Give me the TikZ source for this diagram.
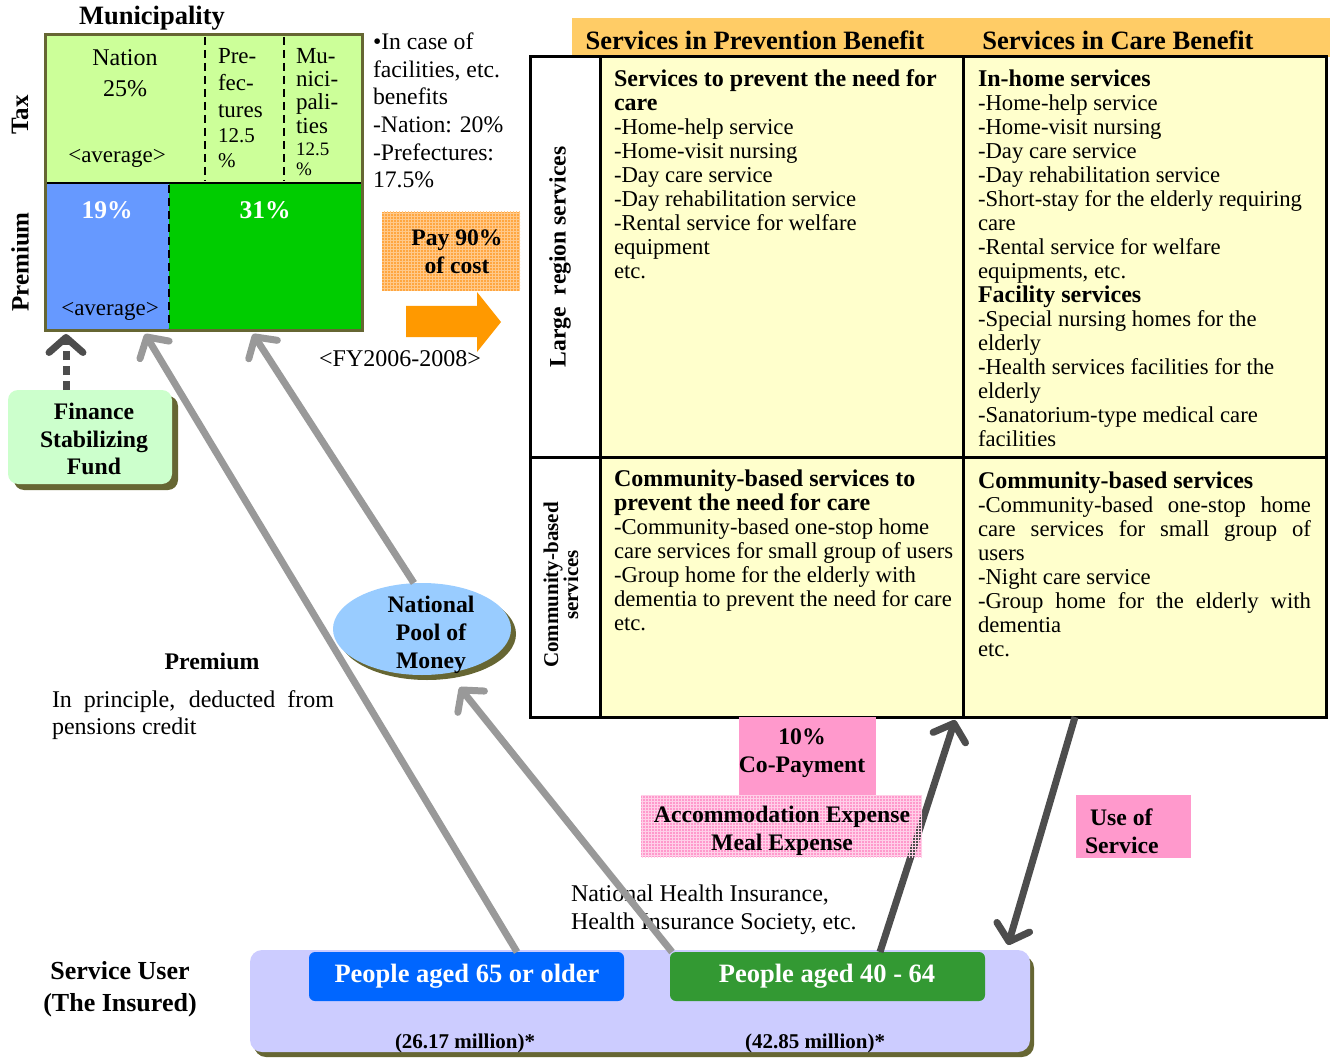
\documentclass[tikz,border=0pt]{standalone}
\usepackage{fontspec}
\setmainfont{Liberation Serif}
\usetikzlibrary{arrows.meta,shapes.geometric,patterns}

\definecolor{ctax}{HTML}{CCFF99}
\definecolor{cpremblue}{HTML}{6699FF}
\definecolor{cpremgreen}{HTML}{00CC00}
\definecolor{colive}{HTML}{666633}
\definecolor{cfund}{HTML}{CCFFCC}
\definecolor{cpay}{HTML}{FFA640}
\definecolor{cpaygrid}{HTML}{FFC98A}
\definecolor{carrow}{HTML}{FF9900}
\definecolor{cband}{HTML}{FFCC66}
\definecolor{ccell}{HTML}{FFFFCC}
\definecolor{cpool}{HTML}{99CCFF}
\definecolor{cpink}{HTML}{FF99CC}
\definecolor{cpinkgrid}{HTML}{FFD0E8}
\definecolor{clav}{HTML}{CCCCFF}
\definecolor{cold}{HTML}{0066FF}
\definecolor{cyoung}{HTML}{339933}
\definecolor{cdark}{HTML}{4D4D4D}
\definecolor{clight}{HTML}{999999}

\newcommand\setsz[2]{\fontsize{#1}{#2}\selectfont}

\tikzset{
  lbl/.style={inner sep=0pt, outer sep=0pt, text=black},
  boxnw/.style={anchor=north west, inner sep=0pt, outer sep=0pt},
  cellbox/.style={boxnw, draw=black, line width=3pt, fill=ccell},
  sidebox/.style={boxnw, draw=black, line width=3pt, fill=white},
  lightarr/.style={draw=clight, line width=7pt, -{Straight Barb[length=15pt,width=34pt,round]}},
  darkarr/.style={draw=cdark, line width=7pt, -{Straight Barb[length=15pt,width=34pt,round]}},
  peoplebox/.style={boxnw, rounded corners=6pt, minimum width=315pt, minimum height=49pt},
  celltext/.style={lbl, anchor=north west, align=left, font=\setsz{22.7}{24}},
  hd/.style={lbl, font=\bfseries\setsz{26.5}{30}},
}

\begin{document}
\begin{tikzpicture}[x=1pt,y=-1pt]
\useasboundingbox (0,0) rectangle (1333,1059);

% ---------------- Municipality financing box ----------------
\node[lbl, anchor=base, font=\bfseries\setsz{26.5}{30}] (muniTitle) at (152,25) {Municipality};
\fill[ctax] (45,35) rectangle (362,183);
\fill[cpremblue] (45,183) rectangle (169,330);
\fill[cpremgreen] (169,183) rectangle (362,330);
\draw[line width=2pt] (45,183) -- (362,183);
\draw[line width=2pt, dash pattern=on 8pt off 5pt]
  (205,37) -- (205,181) (284,37) -- (284,181) (169,185) -- (169,328);
\node[boxnw, draw=colive, line width=3pt, minimum width=317pt, minimum height=295pt] (muni) at (45,35) {};

\node[lbl, anchor=base, font=\setsz{24}{28}] (nation) at (125,66) {Nation};
\node[lbl, anchor=base, font=\setsz{24}{28}] (nationPct) at (125,97) {25\%};
\node[lbl, anchor=base, font=\setsz{23}{28}] (avgTax) at (117,163) {<average>};
\node[lbl, anchor=north west, align=left, font=\setsz{23}{27}] (pref) at (218,48) {Pre-\\fec-\\tures};
\node[lbl, anchor=north west, align=left, font=\setsz{21}{25}] (prefPct) at (218,129) {12.5\\\%};
\node[lbl, anchor=north west, align=left, font=\setsz{23}{23.4}] (munis) at (296,48) {Mu-\\nici-\\pali-\\ties};
\node[lbl, anchor=north west, align=left, font=\setsz{19}{20}] (munisPct) at (296,143) {12.5\\\%};

\node[lbl, anchor=base, text=white, font=\bfseries\setsz{25.5}{28}] (p19) at (107,219) {19\%};
\node[lbl, anchor=base, text=white, font=\bfseries\setsz{25.5}{28}] (p31) at (265,219) {31\%};
\node[lbl, anchor=base, font=\setsz{23}{28}] (avgPrem) at (110,316) {<average>};

\node[lbl, rotate=90, font=\bfseries\setsz{25}{28}] (taxLbl) at (20,115) {Tax};
\node[lbl, rotate=90, font=\bfseries\setsz{25}{28}] (premLbl) at (20,262) {Premium};

% facilities note
\node[lbl, anchor=north west, align=left, font=\setsz{23.7}{27.6}] (note) at (373,33)
  {•In case of\\facilities, etc.\\benefits\\-Nation: 20\%\\-Prefectures:\\17.5\%};

% ---------------- Pay 90% box and block arrow ----------------
\node[boxnw, fill=cpay, minimum width=138pt, minimum height=79pt,
      postaction={pattern=grid, pattern color=cpaygrid}] (pay) at (382,212) {};
\node[lbl, align=center, font=\bfseries\setsz{23.6}{28}] (payLbl) at (457,252) {Pay 90\%\\of cost};
\fill[carrow] (406,306) -- (477,306) -- (477,292) -- (501,322) -- (477,352) -- (477,337) -- (406,337) -- cycle;
\node[lbl, anchor=base, font=\setsz{24}{28}] (fy) at (400,366) {<FY2006-2008>};

% ---------------- Services table ----------------
\node[boxnw, fill=cband, minimum width=758pt, minimum height=39pt] (band) at (572,18) {};
\node[hd, anchor=base] (prevHd) at (755,50) {Services in Prevention Benefit};
\node[hd, anchor=base] (careHd) at (1118,50) {Services in Care Benefit};

\node[sidebox, minimum width=70pt, minimum height=400pt] (sideTop) at (530,57) {};
\node[sidebox, minimum width=70pt, minimum height=260pt] (sideBot) at (530,457) {};
\node[cellbox, minimum width=363pt, minimum height=400pt] (cellA) at (600,57) {};
\node[cellbox, minimum width=363pt, minimum height=400pt] (cellB) at (963,57) {};
\node[cellbox, minimum width=363pt, minimum height=260pt] (cellC) at (600,457) {};
\node[cellbox, minimum width=363pt, minimum height=260pt] (cellD) at (963,457) {};

\node[lbl, rotate=90, font=\bfseries\setsz{23.6}{28}] (largeLbl) at (560,257) {Large\hspace{12pt}region services};
\node[lbl, rotate=90, align=center, font=\bfseries\setsz{21}{18}] (commLbl) at (561,585) {Community-based\\services};

\node[celltext] (txtA) at (614,69.5)
  {{\bfseries\setsz{24}{24}Services to prevent the need for}\\
   {\bfseries\setsz{24}{24}care}\\
   -Home-help service\\-Home-visit nursing\\-Day care service\\
   -Day rehabilitation service\\-Rental service for welfare\\equipment\\etc.};
\node[celltext] (txtB) at (978,69.5)
  {{\bfseries\setsz{24}{24}In-home services}\\
   -Home-help service\\-Home-visit nursing\\-Day care service\\
   -Day rehabilitation service\\-Short-stay for the elderly requiring\\care\\
   -Rental service for welfare\\equipments, etc.\\
   {\bfseries\setsz{24}{24}Facility services}\\
   -Special nursing homes for the\\elderly\\
   -Health services facilities for the\\elderly\\
   -Sanatorium-type medical care\\facilities};
\node[celltext] (txtC) at (614,469.5)
  {{\bfseries\setsz{24}{24}Community-based services to}\\
   {\bfseries\setsz{24}{24}prevent the need for care}\\
   -Community-based one-stop home\\
   care services for small group of users\\
   -Group home for the elderly with\\
   dementia to prevent the need for care\\etc.};
\node[celltext] (txtD) at (978,471.5)
  {{\bfseries\setsz{24}{24}Community-based services}\\
   \makebox[333pt][s]{-Community-based one-stop home}\\
   \makebox[333pt][s]{care services for small group of}\\
   users\\-Night care service\\
   \makebox[333pt][s]{-Group home for the elderly with}\\
   dementia\\etc.};

% ---------------- Finance Stabilizing Fund ----------------
\fill[colive, rounded corners=10pt] (14,396) rectangle (178,490);
\node[boxnw, fill=cfund, rounded corners=10pt, minimum width=164pt, minimum height=94pt] (fund) at (8,390) {};
\node[lbl, align=center, font=\bfseries\setsz{23.7}{27.5}] (fundLbl) at (94,439) {Finance\\Stabilizing\\Fund};

% ---------------- National Pool of Money ----------------
\fill[colive] (427,634) ellipse [x radius=89pt, y radius=46pt];
\node[ellipse, fill=cpool, minimum width=178pt, minimum height=92pt, inner sep=0pt] (pool) at (422,629) {};
\node[lbl, align=center, font=\bfseries\setsz{23.7}{28}] (poolLbl) at (431,635) {National\\Pool of\\Money};

% ---------------- Premium note ----------------
\node[lbl, anchor=base, font=\bfseries\setsz{23.8}{28}] (premNoteHd) at (212,669) {Premium};
\node[lbl, anchor=north west, align=left, font=\setsz{24}{27}] (premNote) at (52,690.5)
  {\makebox[282pt][s]{In principle, deducted from}\\pensions credit};

% ---------------- Insured persons ----------------
\node[lbl, align=center, font=\bfseries\setsz{26}{32}] (userLbl) at (120,989) {Service User\\(The Insured)};
\fill[colive, rounded corners=12pt] (254,956) rectangle (1034,1057);
\node[boxnw, fill=clav, rounded corners=12pt, minimum width=780pt, minimum height=102pt] (user) at (250,950) {};
\node[peoplebox, fill=cold] (old) at (309,952) {};
\node[lbl, text=white, font=\bfseries\setsz{26.5}{30}] (oldLbl) at (467,976) {People aged 65 or older};
\node[peoplebox, fill=cyoung] (young) at (670,952) {};
\node[lbl, text=white, font=\bfseries\setsz{26.5}{30}] (youngLbl) at (827,976) {People aged 40 - 64};
\node[lbl, anchor=base, font=\bfseries\setsz{21}{24}] (oldNum) at (465,1048) {(26.17 million)*};
\node[lbl, anchor=base, font=\bfseries\setsz{21}{24}] (youngNum) at (815,1048) {(42.85 million)*};

\node[lbl, anchor=north west, align=left, font=\setsz{24}{28}] (insurers) at (571,884.5)
  {National Health Insurance,\\Health Insurance Society, etc.};

% ---------------- Co-payment boxes ----------------
\node[boxnw, fill=cpink, minimum width=137pt, minimum height=78pt] (copay) at (739,717) {};
\node[lbl, align=center, font=\bfseries\setsz{23.7}{28}] (copayLbl) at (802,753) {10\%\\Co-Payment};
\node[boxnw, fill=cpink, minimum width=281pt, minimum height=62pt] (accom) at (641,795) {};
\node[boxnw, fill=cpink, minimum width=115pt, minimum height=63pt] (useSvc) at (1076,795) {};
\node[lbl, anchor=west, align=left, font=\bfseries\setsz{23.7}{28}] (useLbl) at (1085,831) {\hspace{5pt}Use of\\Service};

% ---------------- Flow arrows ----------------
\coordinate (muniA) at (145,334);
\coordinate (muniB) at (253,334);
\coordinate (muniC) at (66,334);
\draw[darkarr, dash pattern=on 9pt off 6pt] ([xshift=-24pt]fund.north) -- (muniC);
\draw[lightarr] ([xshift=208pt]old.north west) -- (muniA);
\draw[lightarr] (pool.100) -- (muniB);
\draw[lightarr] ([xshift=2pt]young.north west) -- ([shift={(12,14)}]pool.-60);
\draw[darkarr] ([xshift=210pt]young.north west) -- ([xshift=-8pt,yshift=-3pt]cellC.south east);
\draw[darkarr] ([xshift=112pt]cellD.south west) -- ([xshift=-22pt,yshift=5pt]user.north east);

% textured overlay of the expense box, over the co-payment arrow
\path[pattern=grid, pattern color=cpinkgrid] (accom.north west) rectangle (accom.south east);
\node[lbl, align=center, font=\bfseries\setsz{23.7}{28}] (accomLbl) at (782,831) {Accommodation Expense\\Meal Expense};

\end{tikzpicture}
\end{document}
